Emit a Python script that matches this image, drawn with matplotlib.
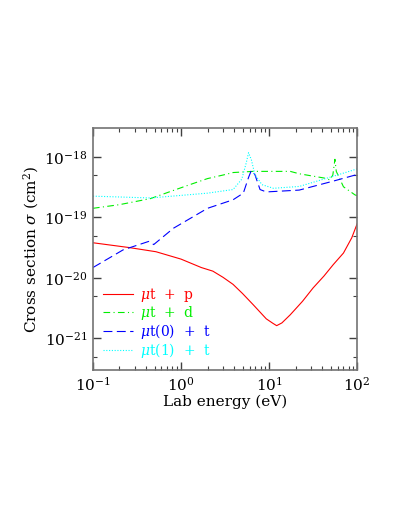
import numpy as np
import matplotlib
matplotlib.use("Agg")
import matplotlib.pyplot as plt
from matplotlib.ticker import LogLocator, NullFormatter

plt.rcParams['font.family'] = ['DejaVu Serif']
plt.rcParams['mathtext.fontset'] = 'dejavuserif'

# mu t + p
e_p = [0.1, 0.26, 0.52, 1.0, 1.7, 2.3, 3.0, 3.9, 5.0, 6.6, 9.3, 11.0, 12.2, 14.0, 17.4, 24.0,
       31.6, 42.0, 53.7, 70.0, 87.0, 100.0]
s_p = [3.8e-20, 3.16e-20, 2.7e-20, 2.04e-20, 1.48e-20, 1.29e-20, 1.02e-20, 7.8e-21, 5.5e-21,
       3.6e-21, 2.1e-21, 1.78e-21, 1.62e-21, 1.8e-21, 2.45e-21, 4.1e-21,
       6.8e-21, 1.07e-20, 1.66e-20, 2.57e-20, 4.6e-20, 7.8e-20]

# mu t + d
e_d = [0.1, 0.2, 0.45, 0.8, 1.26, 2.0, 3.0, 3.9, 6.6, 17.4, 22.0, 42.0, 49.0, 53.0, 56.0, 58.0,
       70.0, 95.0, 100.0]
s_d = [1.41e-19, 1.62e-19, 2.04e-19, 2.75e-19, 3.47e-19, 4.37e-19, 5.0e-19, 5.5e-19, 5.75e-19,
       5.75e-19, 5.25e-19, 4.47e-19, 4.17e-19, 5.0e-19, 9.1e-19, 5.75e-19, 3.2e-19, 2.34e-19,
       2.29e-19]

# mu t(0) + t
e_0 = [0.1, 0.22, 0.43, 0.49, 0.82, 2.0, 3.9, 5.1, 5.85, 6.3, 6.9, 7.9, 9.3, 22.0, 54.0, 95.0, 100.0]
s_0 = [1.48e-20, 2.9e-20, 4.0e-20, 3.55e-20, 6.6e-20, 1.41e-19, 1.95e-19, 2.51e-19, 4.57e-19,
       6.0e-19, 5.1e-19, 2.88e-19, 2.63e-19, 2.82e-19, 3.98e-19, 5.0e-19, 5.1e-19]

# mu t(1) + t
e_1 = [0.1, 0.45, 2.0, 3.9, 4.9, 5.5, 5.85, 6.3, 6.9, 8.3, 11.2, 22.0, 54.0, 95.0, 100.0]
s_1 = [2.24e-19, 2.09e-19, 2.51e-19, 2.88e-19, 4.27e-19, 7.9e-19, 1.17e-18, 8.9e-19, 5.1e-19,
       3.47e-19, 3.02e-19, 3.24e-19, 4.79e-19, 6.17e-19, 6.3e-19]

labels = [r'$\mu$t  +  p', r'$\mu$t  +  d', r'$\mu$t(0)  +  t', r'$\mu$t(1)  +  t']
colors = ['red', '#00ee00', 'blue', 'cyan']

fig = plt.figure(figsize=(3.99, 5.16), dpi=100)
ax = fig.add_axes([0.233, 0.283, 0.662, 0.469])

ax.plot(e_p, s_p, color=colors[0], lw=0.8, ls='-', label=labels[0])
ax.plot(e_d, s_d, color=colors[1], lw=0.8, ls=(0, (6, 3, 1, 3)), label=labels[1])
ax.plot(e_0, s_0, color=colors[2], lw=0.8, ls=(0, (8, 4)), label=labels[2])
ax.plot(e_1, s_1, color=colors[3], lw=0.8, ls=(0, (1, 1.5)), label=labels[3])

ax.set_xscale('log')
ax.set_yscale('log')
ax.set_xlim(0.1, 100)
ax.set_ylim(3e-22, 3e-18)

ax.xaxis.set_major_locator(LogLocator(base=10, numticks=10))
ax.xaxis.set_minor_locator(LogLocator(base=10, subs=np.arange(2, 10), numticks=20))
ax.yaxis.set_major_locator(LogLocator(base=10, numticks=10))
ax.yaxis.set_minor_locator(LogLocator(base=10, subs=[5], numticks=20))
ax.xaxis.set_minor_formatter(NullFormatter())
ax.yaxis.set_minor_formatter(NullFormatter())

ax.tick_params(which='both', direction='in', top=True, right=True, color='0.25', labelsize=11, pad=4)
ax.tick_params(which='major', length=6, width=1)
ax.tick_params(which='minor', length=3, width=0.8)
for sp in ax.spines.values():
    sp.set_color('0.45')
    sp.set_linewidth(1.2)

ax.set_xlabel('Lab energy (eV)', fontsize=11, labelpad=1)
ax.set_ylabel(r'Cross section $\sigma$ (cm$^2$)', fontsize=11, labelpad=2)

leg = ax.legend(loc='lower left', bbox_to_anchor=(0.0, 0.0), frameon=False, fontsize=10,
                handlelength=2.2, handletextpad=0.5, labelspacing=0.0, borderaxespad=0.3)
for txt, c in zip(leg.get_texts(), colors):
    txt.set_color(c)

fig.savefig('out.png', dpi=100)
